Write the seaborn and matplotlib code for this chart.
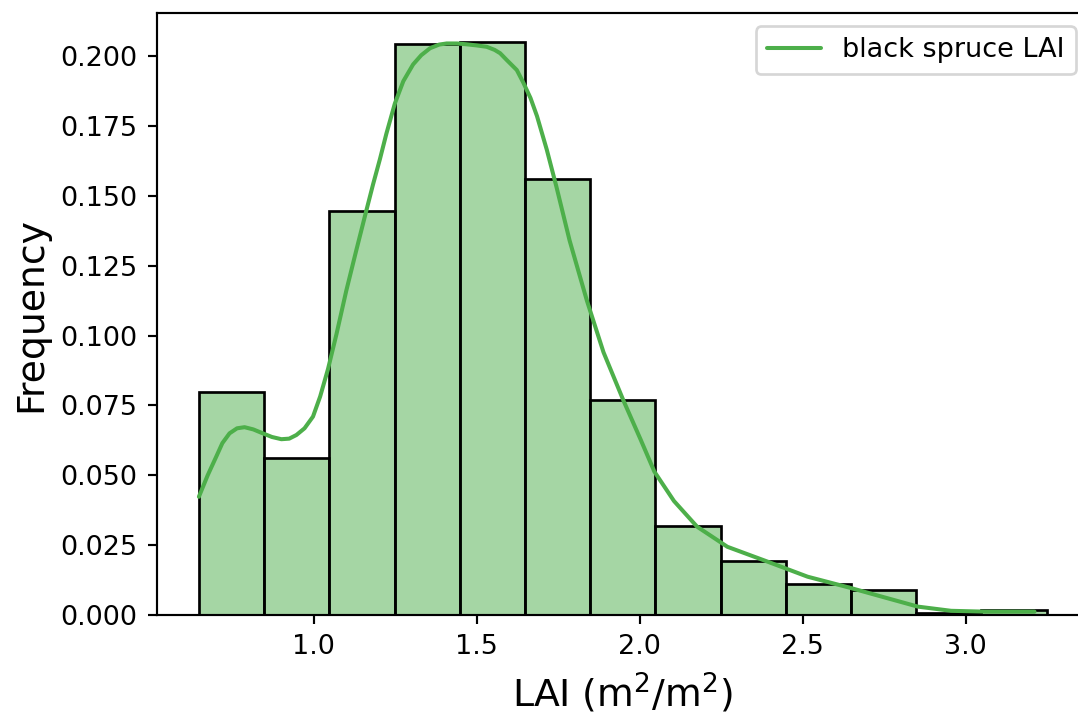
import numpy as np
import pandas as pd
import matplotlib
matplotlib.use("Agg")
import matplotlib.pyplot as plt
import seaborn as sns

# Histogram bins (LAI, m2/m2) and relative frequencies
bin_edges = [0.648, 0.848, 1.048, 1.248, 1.448, 1.648, 1.848, 2.048,
             2.248, 2.448, 2.648, 2.848, 3.048, 3.248]
frequency = [0.0799, 0.0561, 0.1445, 0.2043, 0.2051, 0.1559, 0.0769,
             0.0318, 0.0193, 0.0111, 0.0089, 0.0007, 0.0018]

# KDE curve
kde_x = [0.648, 0.675, 0.701, 0.720, 0.742, 0.765, 0.788, 0.815, 0.844,
         0.872, 0.901, 0.925, 0.947, 0.972, 0.998, 1.020, 1.044, 1.070,
         1.100, 1.131, 1.162, 1.182, 1.203, 1.223, 1.249, 1.275, 1.305,
         1.330, 1.357, 1.385, 1.408, 1.440, 1.469, 1.500, 1.531, 1.555,
         1.572, 1.592, 1.623, 1.643, 1.665, 1.685, 1.715, 1.744, 1.785,
         1.838, 1.889, 1.951, 2.002, 2.045, 2.105, 2.176, 2.269, 2.392,
         2.515, 2.643, 2.760, 2.853, 2.955, 3.058, 3.140, 3.211]
kde_y = [0.0423, 0.0500, 0.0566, 0.0615, 0.0650, 0.0668, 0.0672, 0.0664,
         0.0650, 0.0637, 0.0629, 0.0631, 0.0644, 0.0668, 0.0710, 0.0782,
         0.0880, 0.1005, 0.1160, 0.1306, 0.1449, 0.1540, 0.1630, 0.1722,
         0.1830, 0.1910, 0.1970, 0.2003, 0.2028, 0.2041, 0.2045, 0.2045,
         0.2042, 0.2038, 0.2033, 0.2022, 0.2010, 0.1986, 0.1950, 0.1905,
         0.1850, 0.1785, 0.1665, 0.1535, 0.1340, 0.1125, 0.0940, 0.0765,
         0.0630, 0.0513, 0.0408, 0.0316, 0.0244, 0.0191, 0.0137, 0.0098,
         0.0060, 0.0030, 0.0015, 0.0012, 0.0012, 0.0012]

label = "black spruce LAI"
green = "#4daf4a"

edges = np.array(bin_edges)
centers = (edges[:-1] + edges[1:]) / 2
hist_df = pd.DataFrame({"LAI": centers, "freq": frequency})

fig = plt.figure(figsize=(1078 / 194, 714 / 194), dpi=194)
ax = fig.add_axes([156.5 / 1078, 99 / 714, (1089 - 156.5) / 1078, 602 / 714])

sns.histplot(data=hist_df, x="LAI", weights="freq", bins=list(bin_edges),
             color=green, alpha=0.5, edgecolor="black", linewidth=1.0, ax=ax)
line_df = pd.DataFrame({"x": kde_x, "y": kde_y})
sns.lineplot(data=line_df, x="x", y="y", color=green, linewidth=1.5,
             label=label, ax=ax)
for ln in ax.get_lines():
    ln.set_solid_capstyle("round")
    ln.set_solid_joinstyle("round")

yt = [0.0, 0.025, 0.05, 0.075, 0.1, 0.125, 0.15, 0.175, 0.2]
ax.set_xticks([1.0, 1.5, 2.0, 2.5, 3.0])
ax.set_yticks(yt)
ax.set_yticklabels([f"{v:.3f}" for v in yt])
ax.set_ylim(0, 0.2154)
ax.set_xlabel("LAI (m$^2$/m$^2$)", fontsize=14)
ax.set_ylabel("Frequency", fontsize=14)
ax.tick_params(labelsize=10)
ax.legend(loc="upper right", fontsize=10)

fig.savefig("out.png", dpi=194)
